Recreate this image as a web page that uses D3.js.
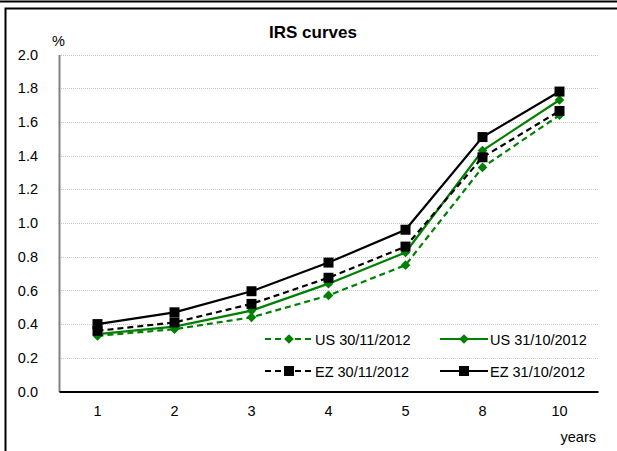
<!DOCTYPE html>
<html>
<head>
<meta charset="utf-8">
<script src="https://cdn.jsdelivr.net/npm/d3@7"></script>
<style>
  body { margin: 0; background: #fff; }
  svg { display: block; font-family: "Liberation Sans", Arial, sans-serif; }
</style>
</head>
<body>
<svg id="chart" width="617" height="451"></svg>
<script>
// Maturities and IRS rates (%)
const years = ["1", "2", "3", "4", "5", "8", "10"];
const us_nov = [0.33, 0.37, 0.44, 0.57, 0.75, 1.33, 1.64];
const us_oct = [0.34, 0.385, 0.48, 0.64, 0.825, 1.43, 1.73];
const ez_nov = [0.36, 0.41, 0.52, 0.675, 0.86, 1.39, 1.665];
const ez_oct = [0.40, 0.47, 0.595, 0.765, 0.96, 1.51, 1.78];
const yTicks = [0, 0.2, 0.4, 0.6, 0.8, 1.0, 1.2, 1.4, 1.6, 1.8, 2.0];

const series = [
  { name: "US 30/11/2012", values: us_nov, color: "#008000", dash: "6,4", marker: "diamond" },
  { name: "US 31/10/2012", values: us_oct, color: "#008000", dash: null, marker: "diamond" },
  { name: "EZ 30/11/2012", values: ez_nov, color: "#000", dash: "6,4", marker: "square" },
  { name: "EZ 31/10/2012", values: ez_oct, color: "#000", dash: null, marker: "square" }
];

const svg = d3.select("#chart");
const margin = { top: 54.5, left: 59, right: 19, bottom: 59 };
const width = 617, height = 451;

// frame
svg.append("line").attr("x1", 0).attr("x2", width).attr("y1", 1.5).attr("y2", 1.5)
  .attr("stroke", "#000").attr("stroke-width", 2);
svg.append("path").attr("d", `M5.5,${height} V8.5 H${width}`)
  .attr("fill", "none").attr("stroke", "#000").attr("stroke-width", 2);

const x = d3.scaleBand().domain(years).range([margin.left, width - margin.right]);
const y = d3.scaleLinear().domain([0, 2]).range([height - margin.bottom - 0.5, margin.top]);

// gridlines
svg.append("g")
  .selectAll("line")
  .data(yTicks.filter(d => d > 0))
  .join("line")
  .attr("x1", margin.left).attr("x2", width - margin.right)
  .attr("y1", d => Math.round(y(d)) + 0.5).attr("y2", d => Math.round(y(d)) + 0.5)
  .attr("stroke", "#c8c8c8").attr("stroke-dasharray", "1,1");

// y axis
const yAxis = svg.append("g")
  .attr("transform", `translate(${margin.left},0)`)
  .call(d3.axisLeft(y).tickValues(yTicks).tickFormat(d3.format(".1f")).tickSize(0).tickPadding(21));
yAxis.select(".domain").attr("stroke", "#808080").attr("stroke-width", 2);
yAxis.selectAll("text").attr("font-size", 14.5).attr("fill", "#000").attr("font-family", "Liberation Sans, Arial, sans-serif");

// x axis
const xAxis = svg.append("g")
  .attr("transform", `translate(0,${y(0)})`)
  .call(d3.axisBottom(x).tickSize(0).tickPadding(14).tickSizeOuter(0));
xAxis.select(".domain").attr("stroke", "#000").attr("stroke-width", 2);
xAxis.selectAll("text").attr("font-size", 14.5).attr("fill", "#000").attr("font-family", "Liberation Sans, Arial, sans-serif");

// title and unit labels
svg.append("text").attr("x", 313).attr("y", 38).attr("text-anchor", "middle")
  .attr("font-size", 17).attr("font-weight", "bold").text("IRS curves");
svg.append("text").attr("x", 52).attr("y", 46).attr("font-size", 14.5).text("%");
svg.append("text").attr("x", 596).attr("y", 442).attr("text-anchor", "end").attr("font-size", 14.5).text("years");

const line = d3.line().x((d, i) => x(years[i]) + x.bandwidth() / 2).y(d => y(d));
const diamond = d3.symbol().type(d3.symbolDiamond2).size(60);
const square = d3.symbol().type(d3.symbolSquare).size(100);

function drawMarker(g, s, px, py) {
  g.append("path")
    .attr("d", s.marker === "diamond" ? diamond() : square())
    .attr("transform", `translate(${px},${py})`)
    .attr("fill", s.color);
}

// series, drawn bottom-first so black lines sit on top
series.forEach(s => {
  const g = svg.append("g");
  g.append("path").datum(s.values).attr("d", line)
    .attr("fill", "none").attr("stroke", s.color).attr("stroke-width", 2.2)
    .attr("stroke-dasharray", s.dash);
  s.values.forEach((v, i) => drawMarker(g, s, x(years[i]) + x.bandwidth() / 2, y(v)));
});

// legend
const legendPos = [[265, 339], [440, 339], [265, 371], [440, 371]];
series.forEach((s, i) => {
  const [lx, ly] = legendPos[i];
  const g = svg.append("g").attr("transform", `translate(${lx},${ly})`);
  g.append("line").attr("x1", 0).attr("x2", 48).attr("y1", 0).attr("y2", 0)
    .attr("stroke", s.color).attr("stroke-width", 2.2).attr("stroke-dasharray", s.dash);
  drawMarker(g, s, 24, 0);
  g.append("text").attr("x", 50).attr("y", 6).attr("font-size", 14.5).text(s.name);
});
</script>
</body>
</html>
